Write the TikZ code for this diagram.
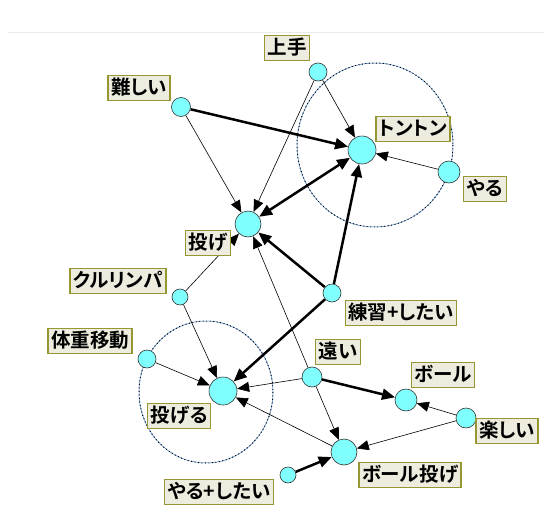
\documentclass[tikz,border=0pt]{standalone}
\usepackage{fontspec}
\setmainfont[RawFeature=+palt,BoldFont={Noto Sans CJK JP Bold}]{Noto Sans CJK JP}
\usetikzlibrary{arrows.meta,backgrounds}
\definecolor{nodecyan}{RGB}{128,255,255}
\definecolor{labfill}{RGB}{237,236,222}
\definecolor{labedge}{RGB}{150,150,50}
\definecolor{ellblue}{RGB}{60,120,190}
\tikzset{
  dot/.style={circle,draw=black!80,line width=0.6pt,fill=nodecyan,inner sep=0pt,minimum size=#1},
  lab/.style={draw=labedge,line width=1.3pt,fill=labfill,inner xsep=3pt,inner ysep=0pt,minimum height=25pt,font=\fontsize{19.5}{19.5}\selectfont\bfseries,text height=16pt,text depth=3pt},
  thin edge/.style={line width=0.6pt,-{Triangle[length=12pt,width=10pt]}},
  thick edge/.style={line width=2.5pt,-{Triangle[length=13pt,width=11pt]}},
  both edge/.style={line width=2.5pt,{Triangle[length=13pt,width=11pt]}-{Triangle[length=13pt,width=11pt]}},
  ell/.style={draw=ellblue,line width=0.5pt},
  elldot/.style={draw=black,line width=1pt,dash pattern=on 0.9pt off 2.6pt},
}
\begin{document}
\begin{tikzpicture}[x=1pt,y=-1pt]
\useasboundingbox (0,0) rectangle (544,525);
\draw[black!8,line width=0.8pt] (8,32) -- (544,32);
% circles
\node[dot=18pt] (jo) at (318,72) {};
\node[dot=19pt] (mu) at (181,107) {};
\node[dot=28pt] (to) at (362,150) {};
\node[dot=22pt] (ya) at (449,172) {};
\node[dot=26pt] (na) at (248,224) {};
\node[dot=16pt] (ku) at (180,297) {};
\node[dot=18pt] (re) at (332,293) {};
\node[dot=18pt] (ta) at (147,359) {};
\node[dot=28pt] (nr) at (223,391) {};
\node[dot=20pt] (en) at (312,377) {};
\node[dot=22pt] (bo) at (406,400) {};
\node[dot=20pt] (tn) at (466,418) {};
\node[dot=26pt] (bn) at (344,452) {};
\node[dot=16pt] (ys) at (288,475) {};
\begin{pgfonlayer}{background}
\draw[ell] (375,145) ellipse [x radius=78, y radius=82];
\draw[elldot] (375,145) ellipse [x radius=78, y radius=82];
\draw[ell] (206,392) ellipse [x radius=67, y radius=71];
\draw[elldot] (206,392) ellipse [x radius=67, y radius=71];
% thick edges
\draw[thick edge] (mu) -- (to);
\draw[both edge] (na) -- (to);
\draw[thick edge] (re) -- (to);
\draw[thick edge] (re) -- (na);
\draw[thick edge] (re) -- (nr);
\draw[thick edge] (en) -- (bo);
\draw[thick edge] (ys) -- (bn);
% thin edges
\draw[thin edge] (jo) -- (to);
\draw[thin edge] (jo) -- (na);
\draw[thin edge] (mu) -- (na);
\draw[thin edge] (ya) -- (to);
\draw[thin edge] (ku) -- (na);
\draw[thin edge] (ku) -- (nr);
\draw[thin edge] (ta) -- (nr);
\draw[thin edge] (en) -- (nr);
\draw[thin edge] (en) -- (na);
\draw[thin edge] (en) -- (bn);
\draw[thin edge] (bn) -- (nr);
\draw[thin edge] (tn) -- (bo);
\draw[thin edge] (tn) -- (bn);
\end{pgfonlayer}
% labels
\node[lab] (ljo) at (287,48) {上手};
\node[lab] (lmu) at (139,88) {難しい};
\node[lab] (lto) at (413,129) {トントン};
\node[lab] (lya) at (485,189) {やる};
\node[lab] (lna) at (208,243) {投げ};
\node[lab] (lku) at (118,281) {クルリンパ};
\node[lab] (lre) at (401,313) {練習+したい};
\node[lab] (lta) at (90,341) {体重移動};
\node[lab] (lnr) at (179,416) {投げる};
\node[lab] (len) at (338,352) {遠い};
\node[lab] (lbo) at (443,375) {ボール};
\node[lab] (ltn) at (507,431) {楽しい};
\node[lab] (lbn) at (410,475) {ボール投げ};
\node[lab] (lys) at (219,492) {やる+したい};
\end{tikzpicture}
\end{document}
